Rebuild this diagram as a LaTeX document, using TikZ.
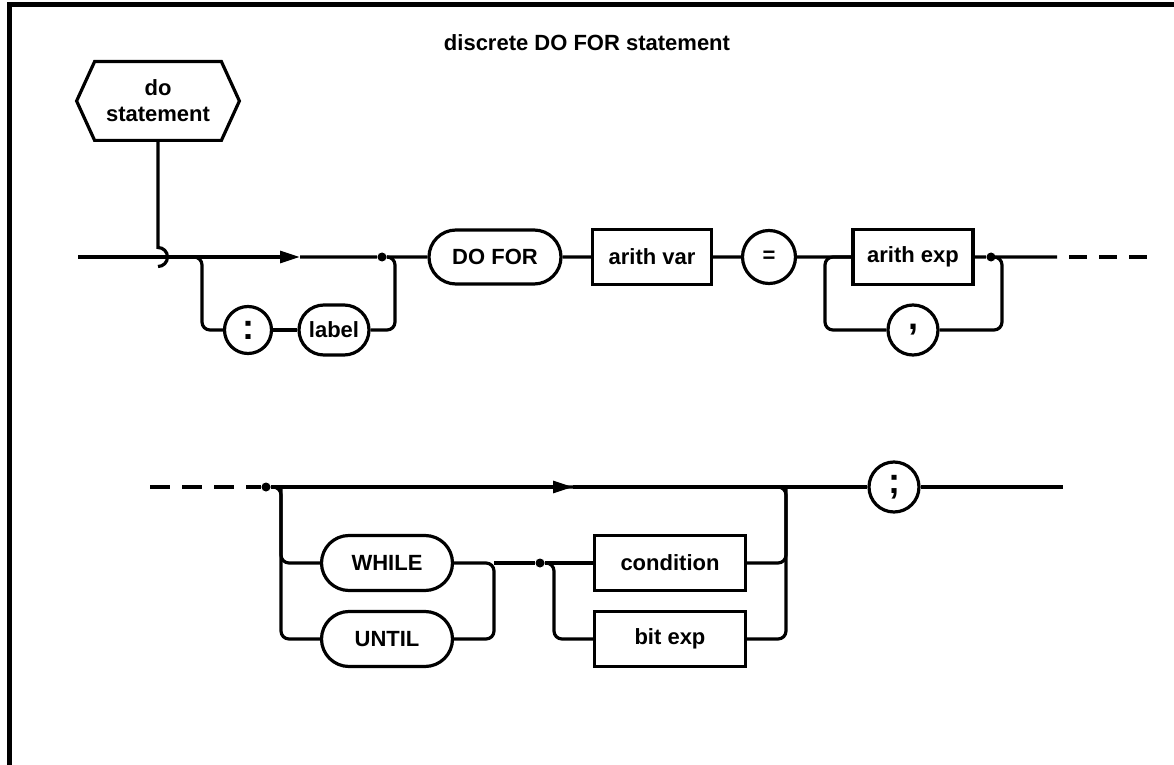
\documentclass[tikz,border=0pt]{standalone}
\usepackage{fontspec}
\setmainfont{Liberation Sans}
\usetikzlibrary{shapes.misc,arrows.meta}

\tikzset{
  rail/.style={line width=1.6pt},
  kw/.style={draw, rounded rectangle, rail, minimum height=27pt, inner sep=2pt},
  nt/.style={draw, rectangle, rail, minimum height=27.5pt, inner sep=2pt},
  sym/.style={draw, circle, rail, inner sep=0pt},
  junct/.style={circle, fill, inner sep=0pt, minimum size=4.5pt},
  rc/.style={rail, rounded corners=4pt},
  flow/.style={rail, -{Triangle[length=10pt,width=6pt]}},
}
\newcommand{\punct}{\fontsize{18}{18}\selectfont}

\begin{document}
\begin{tikzpicture}[x=0.5pt, y=-0.5pt, font=\fontsize{11}{13}\selectfont\bfseries]
  \useasboundingbox (0,0) rectangle (1174,765);
  % frame, cut off at right and bottom
  \draw[line width=2.5pt] (9,765) -- (9,5) -- (1174,5);
  \node (title) at (587,43) {discrete DO FOR statement};

  % entry
  \node[minimum width=63pt, minimum height=39pt, align=center, inner sep=0pt] (hex) at (158,101) {do\\statement};
  \draw[rail] (hex.north west) -- (hex.north east) -- ([xshift=9pt]hex.east) -- (hex.south east)
    -- (hex.south west) -- ([xshift=-9pt]hex.west) -- cycle;

  % first line
  \coordinate (start) at (78,257);
  \coordinate (hook) at (158,257);
  \coordinate (l1) at (202,257);
  \coordinate (arr1) at (300,257);
  \node[junct] (dot1) at (382,257) {};
  \coordinate (r1) at (395,257);
  \node[sym, minimum size=23.5pt] (colon) at (248,330) {\punct :};
  \node[kw, minimum width=39pt, minimum height=25pt] (label) at (334,330) {label};
  \node[kw, minimum width=70pt] (dofor) at (495,257) {DO FOR};
  \node[nt, minimum width=59.5pt] (avar) at (652,257) {arith var};
  \node[sym, minimum size=26.5pt] (eq) at (769,257) {=};
  \coordinate (l2) at (825,257);
  \node[nt, minimum width=60pt] (aexp) at (913,257) {arith exp};
  \node[sym, minimum size=25pt] (comma) at (913,330) {\punct ,};
  \node[junct] (dot2) at (991,257) {};
  \coordinate (r2) at (1002,257);
  \coordinate (cont1) at (1057,257);
  \coordinate (end1) at (1147,257);

  \draw[rail] (hex.south) -- ([yshift=4.75pt]hook) arc[start angle=90, end angle=-90, radius=4.75pt];
  \draw[flow] (start) -- (arr1);
  \draw[rail] (arr1) -- (dot1) -- (dofor) -- (avar) -- (eq) -- (l2) -- (aexp) -- (dot2) -- (cont1);
  \draw[rc] (hook) -- (l1) |- (colon);
  \draw[rail] (colon) -- (label);
  \draw[rc] (label) -| (r1) -- (dot1);
  \draw[rc] (comma) -| (l2) -- (aexp);
  \draw[rc] (dot2) -- (r2) |- (comma);
  \draw[rail, dash pattern=on 9pt off 6pt, dash phase=9pt] (cont1) -- (end1);

  % second line
  \coordinate (dstart) at (150,487);
  \node[junct] (dot3) at (266,487) {};
  \coordinate (l3) at (281,487);
  \coordinate (arr2) at (573,487);
  \coordinate (r4) at (786,487);
  \node[sym, minimum size=25pt] (semi) at (894,487) {\punct ;};
  \coordinate (end2) at (1063,487);
  \node[kw, minimum width=69.5pt, minimum height=27.5pt] (while) at (387,563) {WHILE};
  \node[kw, minimum width=69.5pt, minimum height=27.5pt] (until) at (387,639) {UNTIL};
  \coordinate (m3) at (494,563);
  \node[junct] (dot4) at (540,563) {};
  \coordinate (l4) at (554,563);
  \node[nt, minimum width=75.5pt] (cond) at (670,563) {condition};
  \node[nt, minimum width=75.5pt] (bitexp) at (670,639) {bit exp};

  \draw[rail, dash pattern=on 10pt off 6pt] (dstart) -- (dot3);
  \draw[flow] (dot3) -- (arr2);
  \draw[rail] (arr2) -- (semi) -- (end2);
  \draw[rc] (dot3) -- (l3) |- (until);
  \draw[rc] (l3) |- (while);
  \draw[rc] (while) -- (m3) |- (until);
  \draw[rail] (m3) -- (dot4) -- (cond);
  \draw[rc] (dot4) -- (l4) |- (bitexp);
  \draw[rc] (l3) -- (r4) |- (bitexp);
  \draw[rc] (cond) -| (r4);
\end{tikzpicture}
\end{document}
